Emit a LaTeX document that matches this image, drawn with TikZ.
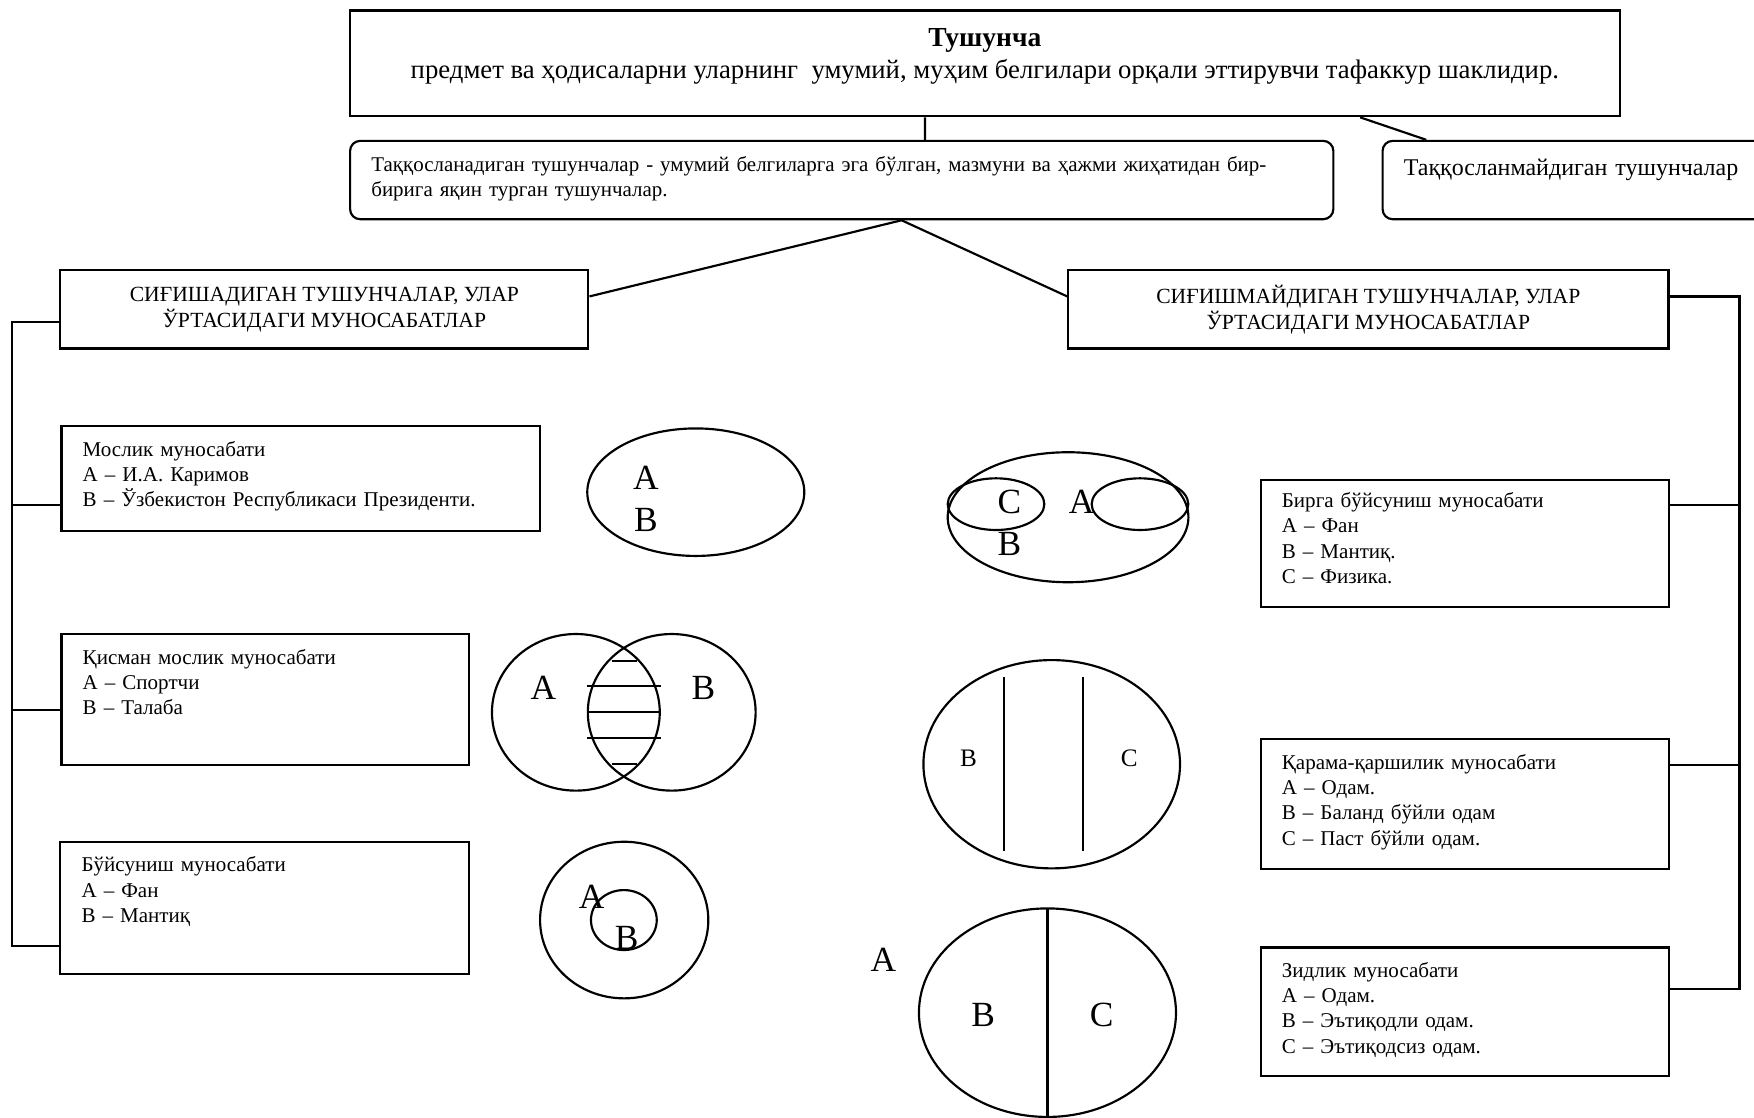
\documentclass[tikz,border=0pt]{standalone}
\usepackage{fontspec}
\setmainfont{Liberation Serif}
\usepackage{tikz}
\usetikzlibrary{positioning}

\begin{document}
\begin{tikzpicture}[x=0.1mm,y=-0.1mm,line width=0.55pt]
    \tikzset{block/.style={draw, rectangle, align=center, inner sep=0pt},
      item/.style={draw, rectangle, anchor=north west, align=left, inner xsep=1.9mm, inner ysep=0pt,
        text height=2.7mm, font=\fontsize{5.35}{6.4}\selectfont},
      rblock/.style={item, rounded corners=0.9mm},
      letter/.style={inner sep=0pt, font=\fontsize{9}{9}\selectfont},
      small letter/.style={inner sep=0pt, font=\fontsize{6.4}{6.4}\selectfont},
    }
    \useasboundingbox (0,0) rectangle (1568,999);

    % concept and its two kinds
    \node[block, align=flush center, anchor=north west, text width=113.5mm, text height=3.25mm, text depth=6.2mm,
      font=\fontsize{6.8}{8}\selectfont] at (312,8.5) (tush)
      {{\fontsize{7}{8}\selectfont\bfseries Тушунча}\\предмет ва ҳодисаларни уларнинг\ \ умумий, муҳим белгилари орқали эттирувчи тафаккур шаклидир.};
    \node[rblock, text width=84.1mm, minimum width=87.9mm, text height=2.7mm, text depth=4.3mm,
      font=\fontsize{5.33}{6.5}\selectfont] at (312,125) (cmp)
      {Таққосланадиган тушунчалар - умумий белгиларга эга бўлган, мазмуни ва ҳажми жиҳатидан бир-\\бирига яқин турган тушунчалар.};
    \node[rblock, text width=34mm, text height=3.1mm, text depth=3.9mm,
      font=\fontsize{6.1}{7}\selectfont] at (1235,125) (ncmp) {Таққосланмайдиган тушунчалар};

    \node[block, minimum width=47.2mm, minimum height=7mm, font=\fontsize{5.5}{6.6}\selectfont] at (290,276.5) (sig)
      {СИҒИШАДИГАН ТУШУНЧАЛАР, УЛАР\\ЎРТАСИДАГИ МУНОСАБАТЛАР};
    \node[block, minimum width=53.65mm, minimum height=7mm, font=\fontsize{5.5}{6.6}\selectfont] at (1223.25,276.5) (nsig)
      {СИҒИШМАЙДИГАН ТУШУНЧАЛАР, УЛАР\\ЎРТАСИДАГИ МУНОСАБАТЛАР};

    % relations
    \node[item, text width=39mm, text depth=6.65mm] at (54,380) (moslik)
      {Мослик муносабати\\А – И.А. Каримов\\В – Ўзбекистон Республикаси Президенти.};
    \node[item, text width=32.65mm, text depth=9mm] at (54,566) (qisman)
      {Қисман мослик муносабати\\А – Спортчи\\В – Талаба};
    \node[item, text width=32.75mm, text depth=9.1mm] at (53,751.5) (buysun)
      {Бўйсуниш муносабати\\А – Фан\\В – Мантиқ};
    \node[item, text width=32.7mm, text depth=8.85mm, text height=2.5mm] at (1126,428) (birga)
      {Бирга бўйсуниш муносабати\\А – Фан\\В – Мантиқ.\\С – Физика.};
    \node[item, text width=32.7mm, text depth=8.9mm] at (1126,660) (qarama)
      {Қарама-қаршилик муносабати\\А – Одам.\\В – Баланд бўйли одам\\С – Паст бўйли одам.};
    \node[item, text width=32.7mm, text depth=8.8mm] at (1126,846) (zid)
      {Зидлик муносабати\\А – Одам.\\В – Эътиқодли одам.\\С – Эътиқодсиз одам.};

    % connectors
    \path[draw] ([xshift=-5.35mm]tush.south) -- ([xshift=7.45mm]cmp.north);
    \path[draw] ([xshift=33.55mm]tush.south) -- ([xshift=4mm]ncmp.north west);
    \path[draw] ([yshift=1.15mm]sig.east) -- ([xshift=5.35mm]cmp.south) -- ([yshift=1.15mm]nsig.west);

    \coordinate (lbot) at (11,846);
    \coordinate (lm) at ([yshift=-7.15mm]moslik.north west);
    \coordinate (lq) at ([yshift=-6.85mm]qisman.north west);
    \path[draw] ([yshift=-1.15mm]sig.west) -| (lbot) -- (lbot -| buysun.west);
    \path[draw] (lm) -- (lm -| lbot);
    \path[draw] (lq) -- (lq -| lbot);

    \coordinate (rbot) at (1555,884);
    \coordinate (rb) at ([yshift=-2.35mm]birga.north east);
    \coordinate (rq) at ([yshift=-2.4mm]qarama.north east);
    \path[draw] ([yshift=1.15mm]nsig.east) -| (rbot) -- (rbot -| zid.east);
    \path[draw] (rb) -- (rb -| rbot);
    \path[draw] (rq) -- (rq -| rbot);

    % diagrams
    \draw (622,440) ellipse [x radius=97, y radius=57];
    \node[letter] at (577.4,427.6) (e1a) {А};
    \node[letter] at (577.4,464.9) (e1b) {В};

    \draw (514.8,636.8) ellipse [x radius=75, y radius=70];
    \draw (600.5,636.8) ellipse [x radius=75, y radius=70];
    \foreach \y/\l/\r in {590.6/546.8/569.2, 613.3/525/591, 636.2/525.5/590, 659.5/525/591, 683/546.8/569.2}
      \draw (\l,\y) -- (\r,\y);
    \node[letter] at (485.7,615.3) (e2a) {А};
    \node[letter] at (628.8,615.3) (e2b) {В};

    \draw (558,822.5) ellipse [x radius=75.2, y radius=70];
    \draw (557.7,822.5) ellipse [x radius=29.4, y radius=26.8];
    \node[letter] at (529,801.6) (e3a) {А};
    \node[letter] at (560.2,838.8) (e3b) {В};

    \draw (954.8,462.4) ellipse [x radius=107.6, y radius=58.1];
    \draw (890.4,450.7) ellipse [x radius=43.2, y radius=23.1];
    \draw (1019.1,450.7) ellipse [x radius=43.2, y radius=23.1];
    \node[letter] at (902.3,448.5) (e4c) {С};
    \node[letter] at (967,448.5) (e4a) {А};
    \node[letter] at (902.3,486.3) (e4b) {В};

    \draw (940.2,683.2) ellipse [x radius=114.7, y radius=93.1];
    \draw (897.3,605.5) -- (897.3,760.5);
    \draw (968.5,605.5) -- (968.5,760.5);
    \node[small letter] at (865.7,678) (e5b) {В};
    \node[small letter] at (1009.6,678) (e5c) {С};

    \draw (936.4,905.3) ellipse [x radius=114.9, y radius=93.2];
    \draw (936.4,812.1) -- (936.4,998.5);
    \node[letter] at (789.7,858.2) (e6a) {А};
    \node[letter] at (879,907.4) (e6b) {В};
    \node[letter] at (984.9,907.4) (e6c) {С};
  \end{tikzpicture}
\end{document}
